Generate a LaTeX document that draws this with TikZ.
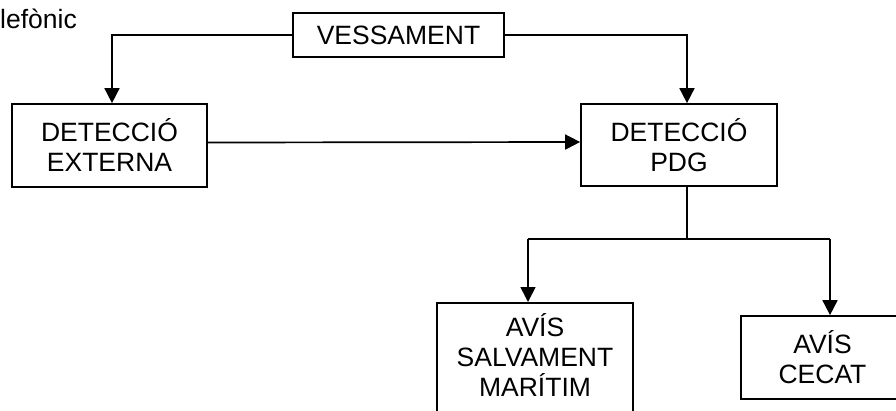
\documentclass[tikz,border=0pt]{standalone}
\usepackage{fontspec}
\setmainfont{Liberation Sans}
\usetikzlibrary{arrows.meta}

\begin{document}

\begin{tikzpicture}[x=1pt,y=-1pt,
    caixa/.style={draw=black,line width=1.7,align=center,inner sep=0pt,
      font=\fontsize{26.5}{30}\selectfont},
    fletxa/.style={line width=1.7,-{Triangle[length=15pt,width=15pt]}},
    linia/.style={line width=1.7}]

    \useasboundingbox (0,0) rectangle (896,410);
    \clip (0,0) rectangle (896,410);

    \node[anchor=base west,font=\fontsize{26.5}{30}\selectfont,inner sep=0pt]
    (telefonic) at (0,28) {lefònic};



    \node[caixa,minimum width=211,minimum height=44] (vessament)
    at (398.5,35) {VESSAMENT};

    \node[caixa,minimum width=195,minimum height=83] (externa)
    at (109.5,145.5) {DETECCIÓ\\EXTERNA};

    \node[caixa,minimum width=196,minimum height=82] (pdg)
    at (679,145) {DETECCIÓ\\PDG};

    \node[caixa,minimum width=196,anchor=north,inner ysep=11pt,text depth=100pt]
    (salvament) at (535,302) {AVÍS\\SALVAMENT\\MARÍTIM};

    \node[caixa,minimum width=163,minimum height=83] (cecat)
    at (822.5,357.5) {AVÍS\\CECAT};



    \coordinate (bifurcacio) at (687,239);
    \coordinate (esquerra) at (528,239);
    \coordinate (dreta) at (830,239);

    \draw[fletxa] (vessament.west) -| ([xshift=2.5]externa.north);
    \draw[fletxa] (vessament.east) -| ([xshift=8]pdg.north);
    \draw[fletxa] ([yshift=3]externa.east) -- ([yshift=3]pdg.west);

    \draw[linia] (pdg.south -| bifurcacio) -- (bifurcacio);
    \draw[linia] (esquerra) -- (dreta);
    \draw[fletxa] (esquerra) -- (esquerra |- salvament.north);
    \draw[fletxa] (dreta) -- (dreta |- cecat.north);

\end{tikzpicture}

\end{document}
